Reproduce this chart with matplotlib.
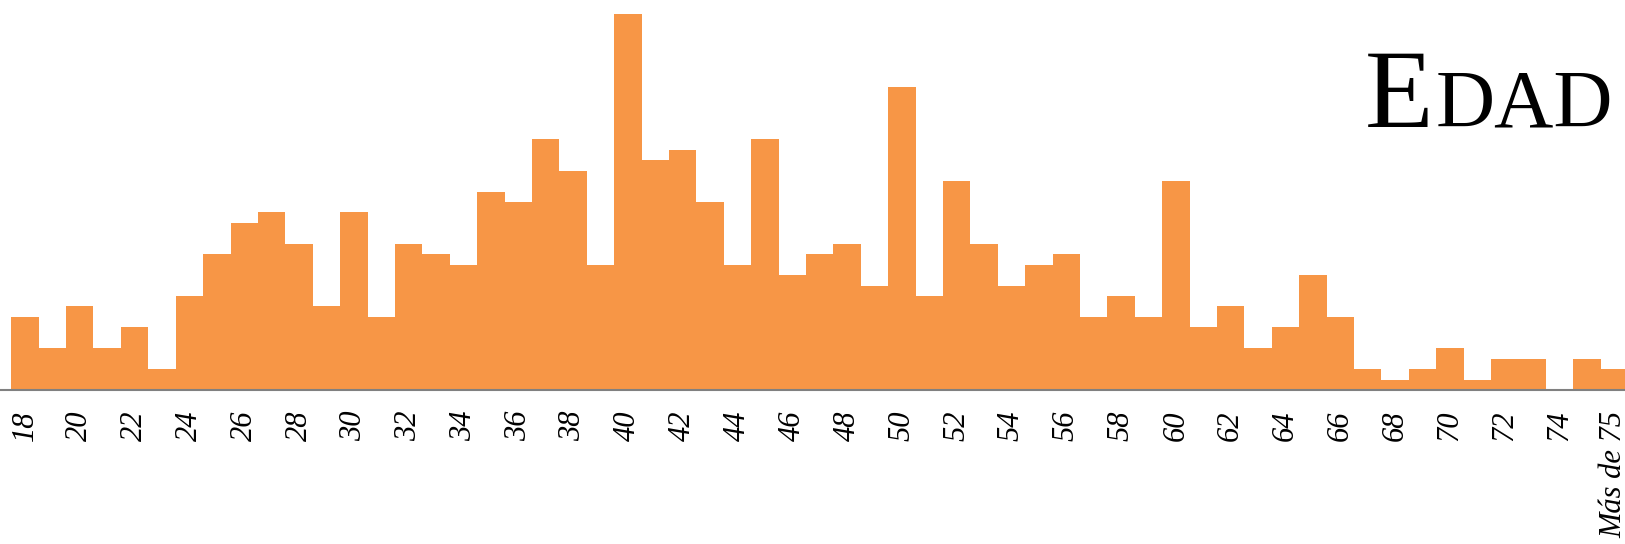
import numpy as np
import matplotlib.pyplot as plt

# --- DATA ---
ages = [str(a) for a in range(18, 76)] + ['Más de 75']
counts = [7, 4, 8, 4, 6, 2, 9, 13, 16, 17, 14, 8, 17, 7, 14, 13, 12, 19, 18, 24,
          21, 12, 36, 22, 23, 18, 12, 24, 11, 13, 14, 10, 29, 9, 20, 14, 10, 12, 13, 7,
          9, 7, 20, 6, 8, 4, 6, 11, 7, 2, 1, 2, 4, 1, 3, 3, 0, 3, 2]
shown_labels = [str(a) for a in range(18, 75, 2)] + ['Más de 75']

# --- STYLE ---
BAR_COLOR = '#F79646'
AXIS_COLOR = '#808080'
SERIF = ['Liberation Serif', 'DejaVu Serif']

W, H = 1625, 544
fig = plt.figure(figsize=(W / 100, H / 100), dpi=100)
ax = fig.add_axes([0, 154 / H, 1, 390 / H])

x = np.arange(len(ages))
ax.bar(x, counts, width=1.0, color=BAR_COLOR, linewidth=0)

# limits chosen so the last bar runs off the right edge like the original
ax.set_xlim(-0.912, 58.39)
ax.set_ylim(0, 37.35)

tick_pos = [ages.index(lbl) for lbl in shown_labels]
ax.set_xticks(tick_pos)
ax.set_xticklabels(shown_labels, rotation=90, fontsize=22, fontstyle='italic',
                   family=SERIF, va='top', ha='center')
ax.tick_params(axis='x', length=0, pad=15)
ax.set_yticks([])

for side in ['top', 'right', 'left']:
    ax.spines[side].set_visible(False)
ax.spines['bottom'].set_color(AXIS_COLOR)
ax.spines['bottom'].set_linewidth(1.5)

# Title in small caps: big "E" + smaller "DAD"
base_y = 1 - 126.7 / H
dad = fig.text(1613 / W, base_y, 'DAD', fontsize=59, family=SERIF,
               ha='right', va='baseline')
fig.canvas.draw()
bb = dad.get_window_extent(renderer=fig.canvas.get_renderer())
fig.text(bb.x0 / W - 2 / W, base_y, 'E', fontsize=81, family=SERIF,
         ha='right', va='baseline')

fig.savefig('out.png', dpi=100)
